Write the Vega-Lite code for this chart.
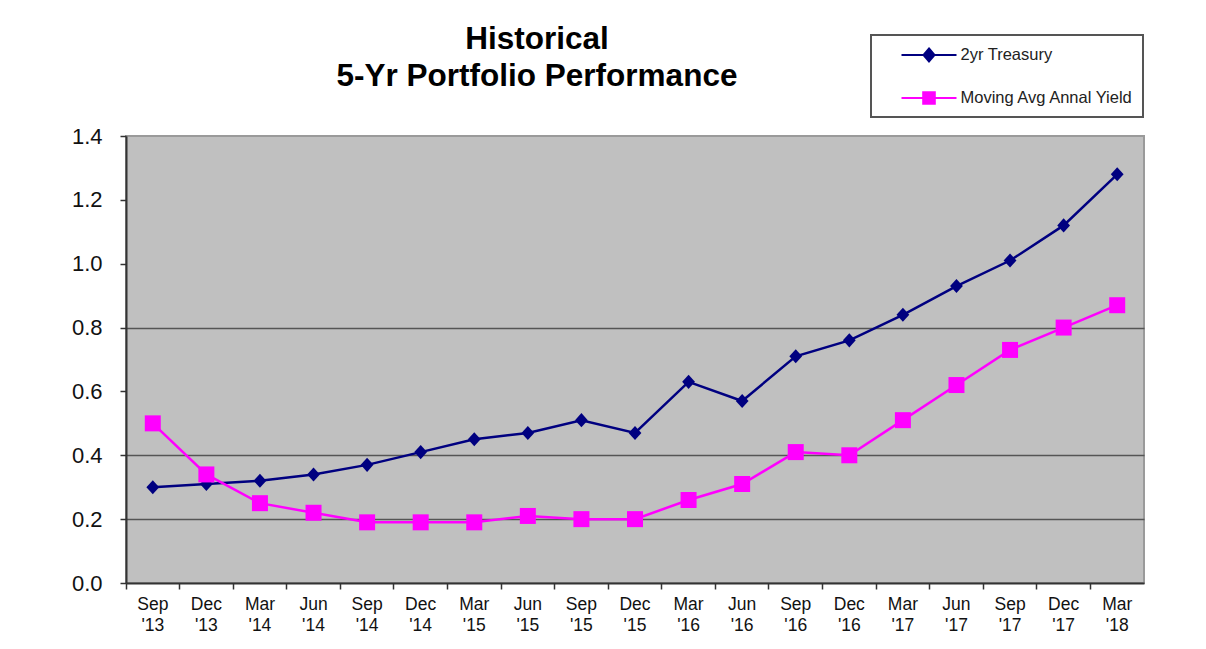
{
  "$schema": "https://vega.github.io/schema/vega-lite/v6.json",
  "autosize": {"type": "none"},
  "width": 1018,
  "height": 447,
  "padding": {"left": 126, "top": 136, "right": 62, "bottom": 66},
  "background": "white",
  "config": {
    "view": {"fill": "#C0C0C0", "stroke": "#9a9a9a", "strokeWidth": 2},
    "font": "Liberation Sans"
  },
  "title": {
    "text": ["Historical", "5-Yr Portfolio Performance"],
    "fontSize": 31.5,
    "fontWeight": "bold",
    "font": "Liberation Sans",
    "color": "#000000",
    "anchor": "middle",
    "frame": "group",
    "dx": -98,
    "offset": -83,
    "baseline": "alphabetic",
    "lineHeight": 37
  },
  "data": {
    "values": [
      {"period": "Sep '13", "series": "2yr Treasury", "value": 0.30},
      {"period": "Dec '13", "series": "2yr Treasury", "value": 0.31},
      {"period": "Mar '14", "series": "2yr Treasury", "value": 0.32},
      {"period": "Jun '14", "series": "2yr Treasury", "value": 0.34},
      {"period": "Sep '14", "series": "2yr Treasury", "value": 0.37},
      {"period": "Dec '14", "series": "2yr Treasury", "value": 0.41},
      {"period": "Mar '15", "series": "2yr Treasury", "value": 0.45},
      {"period": "Jun '15", "series": "2yr Treasury", "value": 0.47},
      {"period": "Sep '15", "series": "2yr Treasury", "value": 0.51},
      {"period": "Dec '15", "series": "2yr Treasury", "value": 0.47},
      {"period": "Mar '16", "series": "2yr Treasury", "value": 0.63},
      {"period": "Jun '16", "series": "2yr Treasury", "value": 0.57},
      {"period": "Sep '16", "series": "2yr Treasury", "value": 0.71},
      {"period": "Dec '16", "series": "2yr Treasury", "value": 0.76},
      {"period": "Mar '17", "series": "2yr Treasury", "value": 0.84},
      {"period": "Jun '17", "series": "2yr Treasury", "value": 0.93},
      {"period": "Sep '17", "series": "2yr Treasury", "value": 1.01},
      {"period": "Dec '17", "series": "2yr Treasury", "value": 1.12},
      {"period": "Mar '18", "series": "2yr Treasury", "value": 1.28},
      {"period": "Sep '13", "series": "Moving Avg Annal Yield", "value": 0.50},
      {"period": "Dec '13", "series": "Moving Avg Annal Yield", "value": 0.34},
      {"period": "Mar '14", "series": "Moving Avg Annal Yield", "value": 0.25},
      {"period": "Jun '14", "series": "Moving Avg Annal Yield", "value": 0.22},
      {"period": "Sep '14", "series": "Moving Avg Annal Yield", "value": 0.19},
      {"period": "Dec '14", "series": "Moving Avg Annal Yield", "value": 0.19},
      {"period": "Mar '15", "series": "Moving Avg Annal Yield", "value": 0.19},
      {"period": "Jun '15", "series": "Moving Avg Annal Yield", "value": 0.21},
      {"period": "Sep '15", "series": "Moving Avg Annal Yield", "value": 0.20},
      {"period": "Dec '15", "series": "Moving Avg Annal Yield", "value": 0.20},
      {"period": "Mar '16", "series": "Moving Avg Annal Yield", "value": 0.26},
      {"period": "Jun '16", "series": "Moving Avg Annal Yield", "value": 0.31},
      {"period": "Sep '16", "series": "Moving Avg Annal Yield", "value": 0.41},
      {"period": "Dec '16", "series": "Moving Avg Annal Yield", "value": 0.40},
      {"period": "Mar '17", "series": "Moving Avg Annal Yield", "value": 0.51},
      {"period": "Jun '17", "series": "Moving Avg Annal Yield", "value": 0.62},
      {"period": "Sep '17", "series": "Moving Avg Annal Yield", "value": 0.73},
      {"period": "Dec '17", "series": "Moving Avg Annal Yield", "value": 0.80},
      {"period": "Mar '18", "series": "Moving Avg Annal Yield", "value": 0.87}
    ]
  },
  "layer": [
    {
      "mark": {"type": "line", "strokeWidth": 2.5},
      "encoding": {
        "x": {
          "field": "period",
          "type": "nominal",
          "sort": null,
          "scale": {"type": "band", "paddingInner": 0, "paddingOuter": 0},
          "axis": {
            "orient": "bottom",
            "title": null,
            "labelAngle": 0,
            "labelExpr": "split(datum.label, ' ')",
            "labelFontSize": 17.5,
            "labelColor": "#111111",
            "labelLineHeight": 21,
            "labelPadding": 12,
            "ticks": false,
            "tickSize": 0,
            "domain": true,
            "domainColor": "#333333",
            "domainWidth": 2,
            "grid": false
          }
        },
        "y": {
          "field": "value",
          "type": "quantitative",
          "scale": {"domain": [0, 1.4], "nice": false, "zero": true},
          "axis": {
            "orient": "left",
            "title": null,
            "values": [0, 0.2, 0.4, 0.6, 0.8, 1.0, 1.2, 1.4],
            "format": ".1f",
            "labelFontSize": 22,
            "labelColor": "#111111",
            "labelPadding": 18,
            "tickSize": 6,
            "tickColor": "#333333",
            "tickWidth": 1.5,
            "domainColor": "#333333",
            "domainWidth": 2,
            "grid": false
          }
        },
        "color": {
          "field": "series",
          "type": "nominal",
          "scale": {"domain": ["2yr Treasury", "Moving Avg Annal Yield"], "range": ["#000080", "#FF00FF"]},
          "legend": {
            "title": null,
            "orient": "none",
            "legendX": 745,
            "legendY": -101,
            "direction": "vertical",
            "padding": 9,
            "rowPadding": 21,
            "symbolSize": 400,
            "symbolOffset": 38,
            "labelOffset": 20.5,
            "labelFontSize": 16.5,
            "labelLimit": 400,
            "labelFont": "Liberation Sans",
            "labelColor": "#222222",
            "labelExpr": "datum.label + '\u00a0\u00a0\u00a0\u00a0\u00a0\u00a0\u00a0'",
            "strokeColor": "#555555",
            "fillColor": "#ffffff",
            "symbolStrokeWidth": 2,
            "encode": {
              "legend": {"update": {"strokeWidth": {"value": 2}}},
              "symbols": {
                "update": {
                  "shape": {"signal": "datum.value === '2yr Treasury' ? 'M-2.75,0H2.75M0,-0.65L0.55,0L0,0.65L-0.55,0Z' : 'M-2.75,0H2.75M-0.58,-0.58H0.58V0.58H-0.58Z'"},
                  "fill": {"signal": "datum.value === '2yr Treasury' ? '#000080' : '#FF00FF'"},
                  "stroke": {"signal": "datum.value === '2yr Treasury' ? '#000080' : '#FF00FF'"},
                  "strokeWidth": {"value": 2},
                  "size": {"value": 400},
                  "opacity": {"value": 1}
                }
              }
            }
          }
        }
      }
    },
    {
      "transform": [{"filter": "datum.series === '2yr Treasury'"}],
      "mark": {"type": "point", "filled": true, "size": 256, "opacity": 1, "strokeWidth": 0, "shape": "M0,-0.88L0.8,0L0,0.88L-0.8,0Z"},
      "encoding": {
        "x": {
          "field": "period",
          "type": "nominal",
          "sort": null,
          "scale": {"type": "band", "paddingInner": 0, "paddingOuter": 0},
          "axis": {
            "orient": "bottom",
            "title": null,
            "labels": false,
            "ticks": true,
            "tickSize": 6,
            "tickColor": "#333333",
            "tickWidth": 1.5,
            "bandPosition": 0,
            "domain": false,
            "grid": false
          }
        },
        "y": {
          "field": "value",
          "type": "quantitative",
          "scale": {"domain": [0, 1.4], "nice": false, "zero": true},
          "axis": {
            "orient": "left",
            "title": null,
            "values": [0.2, 0.4, 0.8],
            "labels": false,
            "ticks": false,
            "domain": false,
            "grid": true,
            "gridColor": "#555555",
            "gridWidth": 1.5,
            "gridOpacity": 1
          }
        },
        "color": {
          "field": "series",
          "type": "nominal",
          "scale": {"domain": ["2yr Treasury", "Moving Avg Annal Yield"], "range": ["#000080", "#FF00FF"]}
        }
      }
    },
    {
      "transform": [{"filter": "datum.series === 'Moving Avg Annal Yield'"}],
      "mark": {"type": "point", "filled": true, "size": 256, "opacity": 1, "strokeWidth": 0, "shape": "M-1,-1H1V1H-1Z"},
      "encoding": {
        "x": {
          "field": "period",
          "type": "nominal",
          "sort": null,
          "scale": {"type": "band", "paddingInner": 0, "paddingOuter": 0},
          "axis": null
        },
        "y": {
          "field": "value",
          "type": "quantitative",
          "scale": {"domain": [0, 1.4], "nice": false, "zero": true},
          "axis": null
        },
        "color": {
          "field": "series",
          "type": "nominal",
          "scale": {"domain": ["2yr Treasury", "Moving Avg Annal Yield"], "range": ["#000080", "#FF00FF"]}
        }
      }
    }
  ],
  "resolve": {"axis": {"x": "independent", "y": "independent"}}
}
